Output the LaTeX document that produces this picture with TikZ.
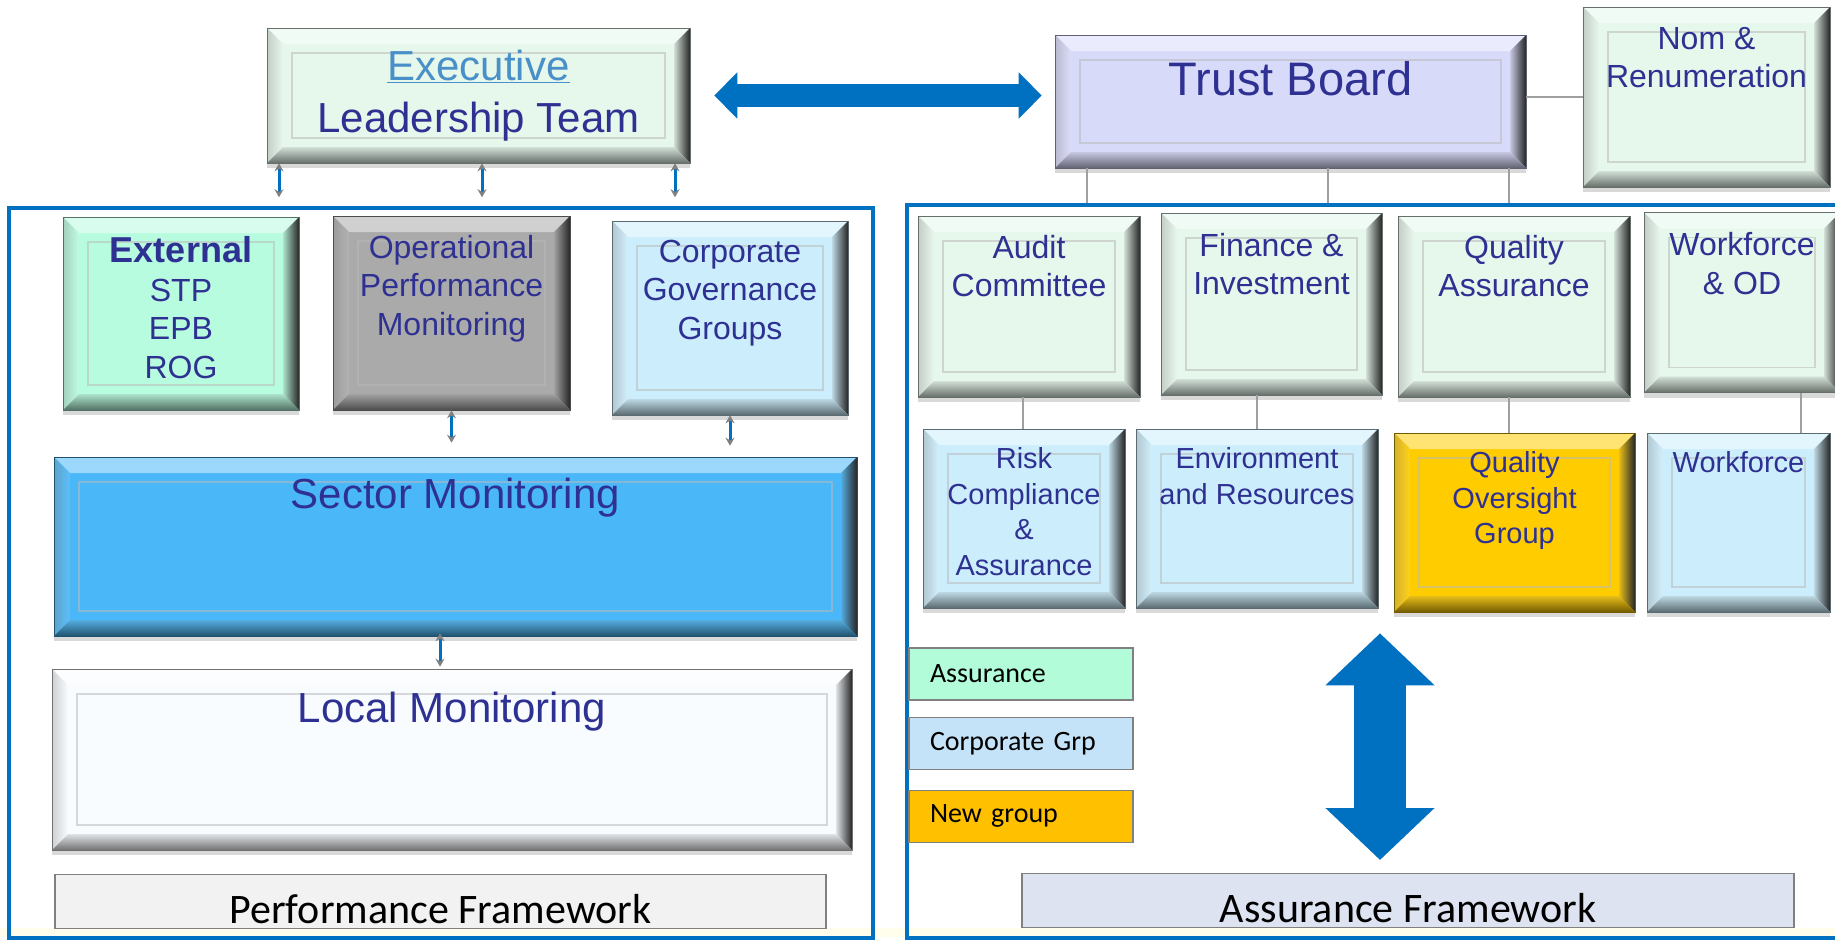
\documentclass[tikz,border=0pt]{standalone}
\usepackage{fontspec}
\setmainfont{Liberation Sans}
\newfontfamily\calibri{Carlito}
\usetikzlibrary{arrows.meta,shadows,positioning}

\definecolor{inkblue}{RGB}{46,49,146}
\definecolor{linkblue}{RGB}{74,144,200}
\definecolor{frameblue}{RGB}{0,112,192}
\definecolor{execgreen}{RGB}{230,247,236}
\definecolor{mintfill}{RGB}{184,252,224}
\definecolor{lavender}{RGB}{216,218,250}
\definecolor{opgrey}{RGB}{170,170,170}
\definecolor{skyfill}{RGB}{204,238,252}
\definecolor{sectorblue}{RGB}{74,184,248}
\definecolor{localwhite}{RGB}{248,252,255}
\definecolor{goldfill}{RGB}{255,204,0}
\definecolor{keymint}{RGB}{179,252,217}
\definecolor{keysky}{RGB}{197,227,248}
\definecolor{keygold}{RGB}{255,192,0}
\definecolor{perfgrey}{RGB}{242,242,242}
\definecolor{assurlilac}{RGB}{221,227,240}
\definecolor{cream}{RGB}{255,253,235}

\tikzset{
	bevel/.style={fill=#1, draw=#1!45!black, line width=0.6pt,
		drop shadow={shadow xshift=0pt, shadow yshift=-5pt, opacity=0.3},
		path picture={
			\path (path picture bounding box.south west) coordinate (o1)
			(path picture bounding box.south east) coordinate (o2)
			(path picture bounding box.north east) coordinate (o3)
			(path picture bounding box.north west) coordinate (o4)
			([shift={(16pt,16pt)}]path picture bounding box.south west) coordinate (i1)
			([shift={(-16pt,16pt)}]path picture bounding box.south east) coordinate (i2)
			([shift={(-16pt,-16pt)}]path picture bounding box.north east) coordinate (i3)
			([shift={(16pt,-16pt)}]path picture bounding box.north west) coordinate (i4);
			\fill[#1!55!white] (o4) -- (o3) -- (i3) -- (i4) -- cycle;
			\shade[left color=#1!65!gray, right color=#1!90!white] (o1) -- (i1) -- (i4) -- (o4) -- cycle;
			\shade[left color=#1!80!gray, right color=black!85] (o2) -- (o3) -- (i3) -- (i2) -- cycle;
			\shade[top color=#1!80!gray, bottom color=#1!45!black] (o1) -- (o2) -- (i2) -- (i1) -- cycle;
			\draw[#1!75!black!60, line width=1.2pt]
			([shift={(25pt,25pt)}]path picture bounding box.south west) rectangle
			([shift={(-25pt,-25pt)}]path picture bounding box.north east);
		}},
	boxtext/.style={text=inkblue, inner sep=0pt, align=center, anchor=north,
		font=\fontsize{32}{38.5}\selectfont},
	rowtext/.style={boxtext, font=\fontsize{29}{35.5}\selectfont},
	bigtext/.style={boxtext, font=\fontsize{42}{52}\selectfont},
	panel/.style={draw=frameblue, line width=3.5pt},
	link/.style={draw=gray!75, line width=1.5pt},
	updown/.style={draw=frameblue, line width=3pt,
		{Stealth[length=8pt,width=9pt,gray]}-{Stealth[length=8pt,width=9pt,gray]}},
	bigarrow/.style={draw=frameblue, line cap=butt},
	framework/.style={draw=gray, line width=1.2pt, inner sep=0pt, anchor=north,
		text height=49pt, text depth=5pt, font=\calibri\fontsize{42}{50}\selectfont},
	keybox/.style={draw=gray, line width=1.2pt, minimum width=224pt, minimum height=52pt,
		text width=182pt, align=left, font=\calibri\fontsize{28}{34}\selectfont}
}

\begin{document}
\begin{tikzpicture}[x=1pt, y=-1pt]
	\useasboundingbox (0,0) rectangle (1835,940);
	\fill[cream] (0,928) rectangle (1835,937);
	
	\node[panel, minimum width=864pt, minimum height=730pt] (perfpanel) at (441,573) {};
	\node[panel, minimum width=943pt, minimum height=733pt] (assurpanel) at (1378.5,571.5) {};
	
	\node[bevel=execgreen, minimum width=423pt, minimum height=135pt,
	label={[bigtext, yshift=-22pt]north:{\textcolor{linkblue}{\underline{Executive}}\\Leadership Team}}] (exec) at (478.5,95.5) {};
	\node[bevel=lavender, minimum width=471pt, minimum height=133pt,
	label={[boxtext, font=\fontsize{47}{56}\selectfont, yshift=-27pt]north:{Trust Board}}] (trust) at (1290.5,101.5) {};
	\node[bevel=execgreen, minimum width=247pt, minimum height=180pt,
	label={[boxtext, yshift=-20pt]north:{Nom \&\\Renumeration}}] (nom) at (1706.5,97) {};
	
	\draw[bigarrow, line width=23pt, {Triangle[length=23pt,width=45pt]}-{Triangle[length=23pt,width=45pt]},
	shorten <=24pt, shorten >=13pt] (exec.east) -- (exec.east -| trust.west);
	\draw[link] (trust.east |- nom.west) -- (nom.west);
	
	\draw[updown, shorten >=9pt] ([xshift=-199.5pt]exec.south) -- ([xshift=-199.5pt]exec.south |- perfpanel.north);
	\draw[updown, shorten >=9pt] ([xshift=3.5pt]exec.south) -- ([xshift=3.5pt]exec.south |- perfpanel.north);
	\draw[updown, shorten >=9pt] ([xshift=196.5pt]exec.south) -- ([xshift=196.5pt]exec.south |- perfpanel.north);
	
	\draw[link] ([xshift=-203.5pt]trust.south) -- ([xshift=-203.5pt]trust.south |- assurpanel.north);
	\draw[link] ([xshift=37.5pt]trust.south) -- ([xshift=37.5pt]trust.south |- assurpanel.north);
	\draw[link] ([xshift=218.5pt]trust.south) -- ([xshift=218.5pt]trust.south |- assurpanel.north);
	
	\node[bevel=mintfill, minimum width=236pt, minimum height=193pt,
	label={[boxtext, yshift=-20pt]north:{{\bfseries\fontsize{36}{38.5}\selectfont External}\\STP\\EPB\\ROG}}] (external) at (181,313.5) {};
	\node[bevel=opgrey, minimum width=237pt, minimum height=194pt,
	label={[boxtext, yshift=-19pt]north:{Operational\\Performance\\Monitoring}}] (oper) at (451.5,313) {};
	\node[bevel=skyfill, minimum width=236pt, minimum height=194pt,
	label={[boxtext, yshift=-19pt]north:{Corporate\\Governance\\Groups}}] (corpgov) at (730,318) {};
	\node[bevel=sectorblue, minimum width=803pt, minimum height=179pt,
	label={[bigtext, yshift=-21pt]north:{Sector Monitoring}}] (sector) at (455.5,546.5) {};
	\node[bevel=localwhite, minimum width=800pt, minimum height=181pt,
	label={[bigtext, yshift=-23pt]north:{Local Monitoring}}] (local) at (452,759.5) {};
	
	\draw[updown, shorten >=14pt] (oper.south) -- (oper.south |- sector.north);
	\draw[updown, shorten >=11pt] (corpgov.south) -- (corpgov.south |- sector.north);
	\draw[updown, shorten <=-3pt, shorten >=2pt] ([xshift=-15.5pt]sector.south) -- ([xshift=-15.5pt]sector.south |- local.north);
	
	\node[framework, fill=perfgrey, minimum width=771pt] (perffw) at (440.5,874) {Performance Framework};
	
	\node[bevel=execgreen, minimum width=222pt, minimum height=181pt,
	label={[boxtext, yshift=-19pt]north:{Audit\\Committee}}] (audit) at (1029,306.5) {};
	\node[bevel=execgreen, minimum width=221pt, minimum height=182pt,
	label={[boxtext, yshift=-20pt]north:{Finance \&\\Investment}}] (finance) at (1271.5,304) {};
	\node[bevel=execgreen, minimum width=232pt, minimum height=181pt,
	label={[boxtext, yshift=-19pt]north:{Quality\\Assurance}}] (qa) at (1514,306.5) {};
	\node[bevel=execgreen, minimum width=196pt, minimum height=180pt,
	label={[boxtext, yshift=-20pt]north:{Workforce\\\& OD}}] (wod) at (1742,302.5) {};
	
	\node[bevel=skyfill, minimum width=202pt, minimum height=179pt,
	label={[rowtext, yshift=-19pt]north:{Risk\\Compliance\\\&\\Assurance}}] (risk) at (1024,518.5) {};
	\node[bevel=skyfill, minimum width=242pt, minimum height=179pt,
	label={[rowtext, yshift=-19pt]north:{Environment\\and Resources}}] (env) at (1257,518.5) {};
	\node[bevel=goldfill, minimum width=241pt, minimum height=179pt,
	label={[rowtext, yshift=-19pt]north:{Quality\\Oversight\\Group}}] (qog) at (1514.5,522.5) {};
	\node[bevel=skyfill, minimum width=183pt, minimum height=179pt,
	label={[rowtext, yshift=-19pt]north:{Workforce}}] (workforce) at (1738.5,522.5) {};
	
	\draw[link] ([xshift=-6pt]audit.south) -- ([xshift=-6pt]audit.south |- risk.north);
	\draw[link] ([xshift=-14.5pt]finance.south) -- ([xshift=-14.5pt]finance.south |- env.north);
	\draw[link] ([xshift=-5pt]qa.south) -- ([xshift=-5pt]qa.south |- qog.north);
	\draw[link] ([xshift=59pt]wod.south) -- ([xshift=59pt]wod.south |- workforce.north);
	
	\node[keybox, fill=keymint] (keyassur) at (1021,674) {Assurance};
	\node[keybox, fill=keysky, below=16pt of keyassur] (keycorp) {Corporate Grp};
	\node[keybox, fill=keygold, below=20pt of keycorp] (keynew) {New group};
	
	\node[framework, fill=assurlilac, minimum width=772pt] (assurfw) at (1408,873) {Assurance Framework};
	
	\draw[bigarrow, line width=52pt, {Triangle[length=52pt,width=106pt]}-{Triangle[length=52pt,width=106pt]},
	shorten <=25pt, shorten >=13pt] ([xshift=-28pt]assurfw.north |- env.south) -- ([xshift=-28pt]assurfw.north);
\end{tikzpicture}
\end{document}
